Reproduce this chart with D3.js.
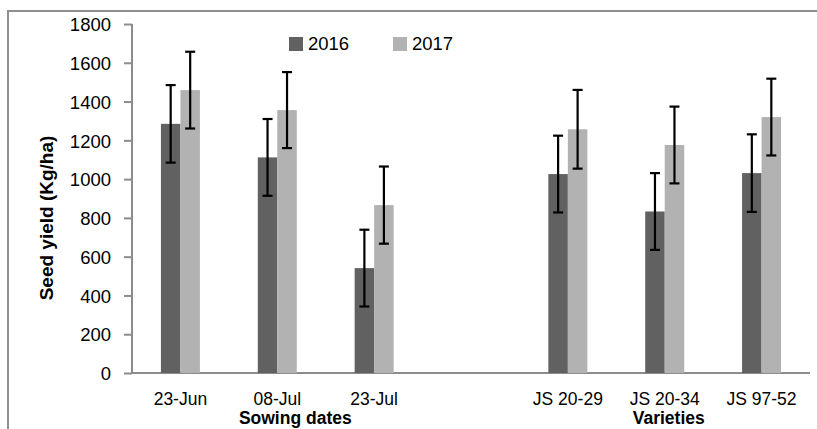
<!DOCTYPE html>
<html>
<head>
<meta charset="utf-8">
<script src="https://cdn.jsdelivr.net/npm/d3@7"></script>
<style>
body { margin: 0; background: #fff; }
svg { display: block; font-family: "Liberation Sans", Arial, sans-serif; }
</style>
</head>
<body>
<div id="chart"></div>
<script>
// chart data
var categories = ["23-Jun", "08-Jul", "23-Jul", "", "JS 20-29", "JS 20-34", "JS 97-52"];
var years = ["2016", "2017"];
var yield2016 = [1285, 1112, 541, null, 1026, 833, 1031];
var yield2017 = [1459, 1356, 866, null, 1257, 1176, 1320];
var err2016 = [200, 198, 198, null, 198, 198, 200];
var err2017 = [198, 196, 199, null, 203, 198, 198];
var yTicks = [0, 200, 400, 600, 800, 1000, 1200, 1400, 1600, 1800];
var groups = [
    {name: "Sowing dates", cats: ["23-Jun", "08-Jul", "23-Jul"], shift: 18},
    {name: "Varieties", cats: ["JS 20-29", "JS 20-34", "JS 97-52"], shift: 4}
];

var colors = {"2016": "#616161", "2017": "#b2b2b2"};

var svgWidth = 817;
var svgHeight = 429;

var margin = {top: 24, right: 7, bottom: 56, left: 132};
var width = svgWidth - margin.left - margin.right;
var height = svgHeight - margin.top - margin.bottom;

var svg = d3.select("#chart")
    .append("svg")
    .attr("width", svgWidth)
    .attr("height", svgHeight);

// outer frame (only left and top edges are inside the picture)
svg.append("rect")
    .attr("x", 8)
    .attr("y", 11)
    .attr("width", svgWidth + 20)
    .attr("height", svgHeight + 20)
    .attr("fill", "none")
    .attr("stroke", "#8f8f8f")
    .attr("stroke-width", 2);

var chartGroup = svg.append("g")
    .attr("transform", `translate(${margin.left}, ${margin.top})`);

// build rows from the arrays
var rows = categories.map(function(c, i) {
    return {
        cat: c,
        key: "c" + i,
        vals: [
            {year: "2016", value: yield2016[i], err: err2016[i]},
            {year: "2017", value: yield2017[i], err: err2017[i]}
        ]
    };
});

var x0 = d3.scaleBand()
    .domain(rows.map(d => d.key))
    .range([0, width]);

var x1 = d3.scaleBand()
    .domain(years)
    .range([-19.5, 19.5]);

var y = d3.scaleLinear()
    .domain([0, 1800])
    .range([height, 0]);

// y axis
var leftAxis = d3.axisLeft(y)
    .tickValues(yTicks)
    .tickSize(8)
    .tickPadding(13)
    .tickFormat(d3.format("d"));

var yAxis = chartGroup.append("g")
    .call(leftAxis);
yAxis.select(".domain").attr("stroke", "#8c8c8c").attr("stroke-width", 2).attr("d", `M0,${height}V0`);
yAxis.selectAll(".tick line").attr("stroke", "#8c8c8c").attr("stroke-width", 2);
yAxis.selectAll(".tick text")
    .attr("font-size", 18.5)
    .attr("fill", "#000")
    .attr("dy", "0.36em");

// x axis line
var bottomAxis = d3.axisBottom(x0).tickSize(0).tickFormat("");
var xAxis = chartGroup.append("g")
    .attr("transform", `translate(0, ${height})`)
    .call(bottomAxis);
xAxis.select(".domain").attr("stroke", "#8c8c8c").attr("stroke-width", 2).attr("d", `M0,0H${width}`);

// category labels
chartGroup.append("g")
    .selectAll("text")
    .data(rows)
    .enter()
    .append("text")
    .attr("x", d => x0(d.key) + x0.bandwidth() / 2)
    .attr("y", height + 32)
    .attr("text-anchor", "middle")
    .attr("font-size", 17.5)
    .text(d => d.cat);

// group labels
var keyOf = {};
rows.forEach(d => { keyOf[d.cat] = d.key; });
chartGroup.append("g")
    .selectAll("text")
    .data(groups)
    .enter()
    .append("text")
    .attr("x", d => d3.mean(d.cats, c => x0(keyOf[c]) + x0.bandwidth() / 2) + d.shift)
    .attr("y", height + 51)
    .attr("text-anchor", "middle")
    .attr("font-size", 17.5)
    .attr("font-weight", "bold")
    .text(d => d.name);

// bars
var catGroups = chartGroup.selectAll(".cat")
    .data(rows)
    .enter()
    .append("g")
    .attr("class", "cat")
    .attr("transform", d => `translate(${x0(d.key) + x0.bandwidth() / 2}, 0)`);

catGroups.selectAll("rect")
    .data(d => d.vals.filter(v => v.value !== null))
    .enter()
    .append("rect")
    .attr("x", d => x1(d.year))
    .attr("width", x1.bandwidth())
    .attr("y", d => y(d.value))
    .attr("height", d => height - y(d.value))
    .attr("fill", d => colors[d.year]);

// error bars
var errs = catGroups.selectAll(".err")
    .data(d => d.vals.filter(v => v.value !== null))
    .enter()
    .append("g")
    .attr("class", "err")
    .attr("stroke", "#000")
    .attr("stroke-width", 2.2);

errs.append("line")
    .attr("x1", d => x1(d.year) + x1.bandwidth() / 2)
    .attr("x2", d => x1(d.year) + x1.bandwidth() / 2)
    .attr("y1", d => y(d.value + d.err))
    .attr("y2", d => y(d.value - d.err));

errs.append("line")
    .attr("x1", d => x1(d.year) + x1.bandwidth() / 2 - 5)
    .attr("x2", d => x1(d.year) + x1.bandwidth() / 2 + 5)
    .attr("y1", d => y(d.value + d.err))
    .attr("y2", d => y(d.value + d.err));

errs.append("line")
    .attr("x1", d => x1(d.year) + x1.bandwidth() / 2 - 5)
    .attr("x2", d => x1(d.year) + x1.bandwidth() / 2 + 5)
    .attr("y1", d => y(d.value - d.err))
    .attr("y2", d => y(d.value - d.err));

// y label
svg.append("text")
    .attr("transform", "rotate(-90)")
    .attr("x", -218)
    .attr("y", 53)
    .attr("text-anchor", "middle")
    .attr("font-size", 19)
    .attr("font-weight", "bold")
    .text("Seed yield (Kg/ha)");

// legend
var legend = svg.append("g")
    .selectAll("g")
    .data(years)
    .enter()
    .append("g")
    .attr("transform", (d, i) => `translate(${289 + i * 104}, 37)`);

legend.append("rect")
    .attr("width", 14)
    .attr("height", 14)
    .attr("fill", d => colors[d]);

legend.append("text")
    .attr("x", 19)
    .attr("y", 13)
    .attr("font-size", 18.5)
    .text(d => d);
</script>
</body>
</html>
